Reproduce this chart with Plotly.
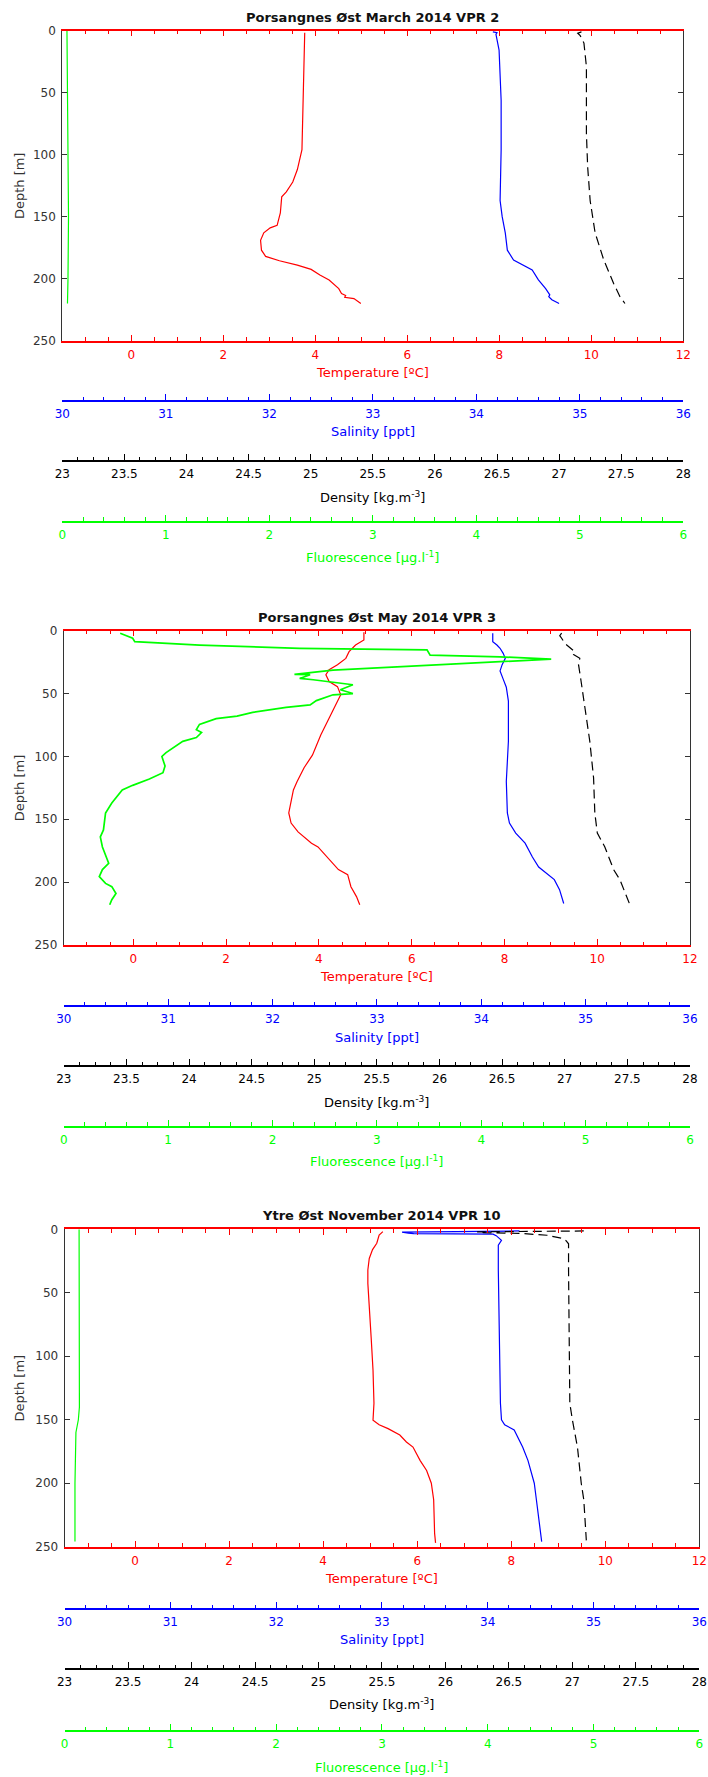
import plotly.graph_objects as go

W, H = 708, 1777

# ---------------- data ----------------
titles = ["Porsangnes Øst March 2014 VPR 2",
          "Porsangnes Øst May 2014 VPR 3",
          "Ytre Øst November 2014 VPR 10"]

# March
mar_temp_depth = [1.6, 42, 96, 112, 122, 130, 134, 147, 157, 159, 163, 169, 177, 182, 185.5, 189, 192.5, 197, 201, 208, 212, 213.5, 215, 216, 220]
mar_temp = [3.77, 3.75, 3.71, 3.61, 3.51, 3.37, 3.27, 3.24, 3.17, 3.02, 2.88, 2.81, 2.83, 2.92, 3.22, 3.61, 3.91, 4.10, 4.30, 4.51, 4.57, 4.66, 4.64, 4.84, 4.99]
mar_sal_depth = [1.0, 1.6, 3, 15.6, 56, 96, 137, 150, 163, 177, 185, 189, 193, 201, 208, 213, 214.5, 217, 220]
mar_sal = [34.16, 34.20, 34.19, 34.22, 34.24, 34.24, 34.23, 34.25, 34.28, 34.30, 34.36, 34.45, 34.54, 34.60, 34.67, 34.71, 34.70, 34.73, 34.80]
mar_dens_depth = [1.0, 2.0, 4, 10, 29, 83, 110, 137, 163, 185, 204, 214.5, 220]
mar_dens = [27.18, 27.15, 27.17, 27.20, 27.22, 27.22, 27.23, 27.25, 27.29, 27.36, 27.44, 27.49, 27.53]
mar_fluo_depth = [0, 50, 100, 150, 200, 220]
mar_fluo = [0.045, 0.05, 0.055, 0.06, 0.055, 0.05]

# May
may_temp_depth = [1.3, 7.4, 11.4, 16.7, 22, 27, 31, 35, 40.5, 44.5, 51, 59, 70, 83, 99, 109, 120, 126.7, 145, 153, 160, 169, 172, 178, 186, 190, 194, 203.6, 211.5, 218]
may_temp = [4.97, 4.97, 4.79, 4.65, 4.58, 4.40, 4.22, 4.15, 4.22, 4.40, 4.47, 4.36, 4.22, 4.04, 3.86, 3.68, 3.53, 3.45, 3.35, 3.40, 3.55, 3.84, 3.98, 4.13, 4.32, 4.42, 4.62, 4.69, 4.81, 4.88]
may_sal_depth = [2, 8.7, 11.4, 14, 18, 22, 27, 32, 38.5, 45, 56, 88, 120, 145, 153, 161, 169, 180, 188, 193, 198, 206, 217]
may_sal = [34.11, 34.11, 34.15, 34.18, 34.21, 34.23, 34.20, 34.18, 34.21, 34.24, 34.26, 34.26, 34.24, 34.25, 34.27, 34.33, 34.42, 34.49, 34.55, 34.62, 34.70, 34.75, 34.79]
may_dens_depth = [2, 4, 6, 10, 16.7, 19, 22, 27, 40, 61, 88, 117, 145, 161, 172, 190, 198, 218]
may_dens = [26.975, 26.96, 26.975, 27.00, 27.08, 27.07, 27.12, 27.11, 27.13, 27.16, 27.20, 27.23, 27.24, 27.26, 27.32, 27.39, 27.44, 27.52]
may_fluo_depth = [2, 6, 8.7, 11.4, 14, 15.3, 19.5, 20.8, 22.6, 24.7, 27.4, 31.3, 34.8, 35, 38, 39, 43, 47, 50, 51, 55.6, 59, 61, 65, 68, 70, 74.5, 78.7, 81, 85, 88, 97, 100, 107.7, 113, 118, 123, 126.7, 137, 145, 158.5, 164, 172, 180, 185, 190, 195.6, 201, 203.6, 209, 214, 218]
may_fluo = [0.54, 0.66, 0.68, 1.30, 2.26, 3.48, 3.51, 4.18, 4.67, 4.18, 3.57, 2.58, 2.21, 2.36, 2.26, 2.39, 2.77, 2.65, 2.77, 2.58, 2.42, 2.36, 2.13, 1.81, 1.66, 1.46, 1.30, 1.27, 1.32, 1.27, 1.14, 0.98, 0.94, 0.97, 0.95, 0.82, 0.66, 0.56, 0.46, 0.40, 0.38, 0.35, 0.37, 0.41, 0.43, 0.37, 0.34, 0.40, 0.46, 0.50, 0.46, 0.44]

# November
nov_temp_depth = [1.8, 4.5, 11, 16, 23, 32, 42.6, 58, 85, 111, 137, 150.4, 154, 157, 162, 167.5, 171.5, 182, 190, 200, 213, 239.5, 247]
nov_temp = [5.27, 5.19, 5.14, 5.05, 4.98, 4.95, 4.95, 4.98, 5.02, 5.06, 5.08, 5.06, 5.19, 5.38, 5.63, 5.77, 5.91, 6.06, 6.20, 6.30, 6.35, 6.37, 6.39]
nov_sal_depth = [1.3, 2.2, 3.0, 3.4, 3.8, 5.0, 8.7, 12.6, 32, 85, 137, 150, 154, 158, 171.5, 182, 195, 200, 213, 226, 246]
nov_sal = [34.30, 33.19, 33.25, 33.30, 34.05, 34.08, 34.13, 34.10, 34.10, 34.11, 34.12, 34.13, 34.16, 34.25, 34.33, 34.38, 34.42, 34.44, 34.46, 34.48, 34.51]
nov_dens_depth = [1.3, 2.0, 2.6, 3.3, 4.7, 7.4, 9.0, 11.4, 32, 85, 137, 150, 171.5, 200, 213, 245]
nov_dens = [27.09, 26.25, 26.30, 26.60, 26.80, 26.93, 26.95, 26.97, 26.97, 26.975, 26.98, 27.00, 27.04, 27.07, 27.09, 27.11]
nov_fluo_depth = [0, 50, 100, 140, 150, 160, 200, 246]
nov_fluo = [0.137, 0.14, 0.14, 0.14, 0.13, 0.107, 0.098, 0.098]

# axes ticks / labels
depth_ticks = [0, 50, 100, 150, 200, 250]
temp_ticks = [0, 2, 4, 6, 8, 10, 12]
temp_labels = ["0", "2", "4", "6", "8", "10", "12"]
sal_ticks = [30, 31, 32, 33, 34, 35, 36]
sal_labels = ["30", "31", "32", "33", "34", "35", "36"]
dens_ticks = [23, 23.5, 24, 24.5, 25, 25.5, 26, 26.5, 27, 27.5, 28]
dens_labels = ["23", "23.5", "24", "24.5", "25", "25.5", "26", "26.5", "27", "27.5", "28"]
fluo_ticks = [0, 1, 2, 3, 4, 5, 6]
fluo_labels = ["0", "1", "2", "3", "4", "5", "6"]

temp_range = [-1.5, 12]
sal_range = [30, 36]
dens_range = [23, 28]
fluo_range = [0, 6]
depth_range = [250, 0]

axis_titles = ["Temperature [ºC]", "Salinity [ppt]", "Density [kg.m<sup>-3</sup>]",
               "Fluorescence [μg.l<sup>-1</sup>]"]

# ---------------- layout geometry (pixels) ----------------
panels = [
    dict(x=(62.3, 683.3), y=(30.7, 340.7), title_y=17.3,
         lines=(401, 461, 521.7), ttl=(372.7, 431.7, 496.7, 556.7),
         data=[(mar_temp, mar_temp_depth), (mar_sal, mar_sal_depth),
               (mar_dens, mar_dens_depth), (mar_fluo, mar_fluo_depth)], gw=1.2),
    dict(x=(63.8, 690.0), y=(630.7, 945.0), title_y=617.7,
         lines=(1006, 1066, 1126.7), ttl=(976, 1037, 1101.7, 1161),
         data=[(may_temp, may_temp_depth), (may_sal, may_sal_depth),
               (may_dens, may_dens_depth), (may_fluo, may_fluo_depth)], gw=1.7),
    dict(x=(64.6, 699.3), y=(1229.3, 1546.7), title_y=1215.7,
         lines=(1609, 1669, 1731), ttl=(1578, 1639, 1704, 1766.7),
         data=[(nov_temp, nov_temp_depth), (nov_sal, nov_sal_depth),
               (nov_dens, nov_dens_depth), (nov_fluo, nov_fluo_depth)], gw=1.2),
]

FONT = "DejaVu Sans"
RED = "#ff0000"
BLUE = "#0000ff"
BLACK = "#000000"
GREEN = "#00ff00"
FRAME = "#333333"

colors = [RED, BLUE, BLACK, GREEN]
ranges = [temp_range, sal_range, dens_range, fluo_range]
tvals = [temp_ticks, sal_ticks, dens_ticks, fluo_ticks]
ttext = [temp_labels, sal_labels, dens_labels, fluo_labels]
minor_dt = [0.5, 0.2, 0.125, 0.2]
minor_t0 = [0, 30, 23, 0]


def px(v):
    return v / W


def py(v):
    return 1 - v / H


fig = go.Figure()
layout = dict(width=W, height=H, margin=dict(l=0, r=0, t=0, b=0),
              paper_bgcolor="white", plot_bgcolor="white", template="none",
              showlegend=False, font=dict(family=FONT, size=12, color=FRAME))
annotations = []

for i, p in enumerate(panels):
    base = 4 * i + 1
    yname = "y" if i == 0 else f"y{i + 1}"
    ykey = "yaxis" if i == 0 else f"yaxis{i + 1}"
    xdom = [px(p["x"][0]), px(p["x"][1])]
    ydom = [py(p["y"][1]), py(p["y"][0])]

    layout[ykey] = dict(domain=ydom, anchor=("x" if base == 1 else f"x{base}"),
                        range=depth_range, tickmode="array", tickvals=depth_ticks,
                        ticks="inside", ticklen=5, tickcolor=FRAME, showline=True,
                        linecolor=FRAME, linewidth=1, mirror="ticks", showgrid=False,
                        zeroline=False, automargin=False, ticklabelstandoff=3,
                        tickfont=dict(family=FONT, size=12, color=FRAME))

    for k in range(4):
        n = base + k
        xname = "x" if n == 1 else f"x{n}"
        xkey = "xaxis" if n == 1 else f"xaxis{n}"
        ax = dict(domain=xdom, range=ranges[k], tickmode="array", tickvals=tvals[k],
                  ticktext=ttext[k], ticks="inside", ticklen=6, tickwidth=1,
                  tickcolor=colors[k], showline=True, linecolor=colors[k], linewidth=1.5,
                  showgrid=False, zeroline=False, automargin=False, side="bottom",
                  ticklabelstandoff=2,
                  tickfont=dict(family=FONT, size=12, color=colors[k]),
                  minor=dict(tickmode="linear", tick0=minor_t0[k], dtick=minor_dt[k],
                             ticks="inside", ticklen=3.5, tickcolor=colors[k], showgrid=False))
        if k == 0:
            ax.update(anchor=yname, mirror="ticks")
        else:
            base_name = "x" if base == 1 else f"x{base}"
            ax.update(overlaying=base_name, anchor="free", position=py(p["lines"][k - 1]))
        layout[xkey] = ax

        vals, depth = p["data"][k]
        line = dict(color=colors[k], width=1.2)
        if k == 2:
            line["dash"] = "9px,5px"
        if k == 3:
            line["width"] = p["gw"]
        fig.add_trace(go.Scatter(x=vals, y=depth, xaxis=xname, yaxis=yname,
                                 mode="lines", line=line, hoverinfo="skip"))

        annotations.append(dict(text=axis_titles[k], xref="paper", yref="paper",
                                x=(xdom[0] + xdom[1]) / 2, y=py(p["ttl"][k]),
                                xanchor="center", yanchor="middle", showarrow=False,
                                font=dict(family=FONT, size=13, color=colors[k])))

    annotations.append(dict(text="<b>" + titles[i] + "</b>", xref="paper", yref="paper",
                            x=(xdom[0] + xdom[1]) / 2, y=py(p["title_y"]),
                            xanchor="center", yanchor="middle", showarrow=False,
                            font=dict(family=FONT, size=13, color="#111111")))
    annotations.append(dict(text="Depth [m]", xref="paper", yref="paper",
                            x=px(19.4), y=py((p["y"][0] + p["y"][1]) / 2),
                            xanchor="center", yanchor="middle", showarrow=False,
                            textangle=-90,
                            font=dict(family=FONT, size=13, color=FRAME)))

layout["annotations"] = annotations
fig.update_layout(**layout)
fig.write_html("out.html")
